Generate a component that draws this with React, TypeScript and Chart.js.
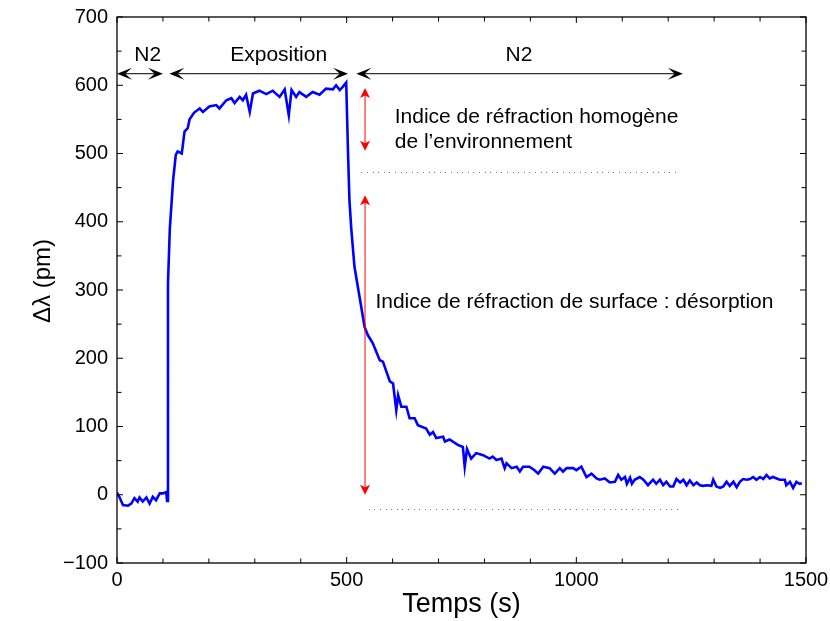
import React, { useEffect, useRef } from "react";
import { Chart, registerables } from "chart.js";

Chart.register(...registerables);

// ---- data (time in s, shift in pm) ----
const TIME_S = [
  0, 5, 13, 24, 31, 38, 45, 49, 56, 64, 71, 78, 85, 93, 100, 107, 109,
  111, 115, 122, 128, 132, 141, 147, 154, 158, 168, 180, 187, 201, 216, 223, 238, 249, 256, 267, 274, 281, 289, 296,
  310, 325, 339, 354, 365, 374, 380, 390, 397, 412, 426, 441, 455, 470, 477, 485, 492, 499,
  503, 506, 510, 517, 528, 539, 546, 557, 572, 579, 594, 601, 608, 612, 619, 630, 637, 648, 655, 673, 681, 688, 695,
  710, 714, 724, 742, 753, 757, 762, 771, 782, 797, 811, 818, 826, 837, 844, 848, 859, 870, 877, 884, 898, 909, 917,
  928, 942, 953, 964, 971, 979, 993, 1000, 1011, 1022, 1033, 1044, 1051, 1062, 1073, 1084, 1091, 1098, 1106, 1110,
  1117, 1121, 1127, 1138, 1146, 1156, 1167, 1174, 1182, 1189, 1196, 1204, 1211, 1218, 1226, 1233, 1240, 1247, 1255,
  1262, 1269, 1276, 1284, 1294, 1298, 1305, 1313, 1320, 1327, 1334, 1342, 1349, 1356, 1363, 1371, 1378, 1385, 1392,
  1400, 1407, 1414, 1421, 1428, 1443, 1454, 1457, 1465, 1472, 1479, 1486, 1491,
];
const SHIFT_PM = [
  3, -3, -15, -16, -13, -5, -10, -4, -10, -4, -13, -3, -8, 2, 2, 4, -9,
  310, 390, 460, 498, 503, 500, 532, 537, 550, 560, 566, 561, 569, 571, 566, 578, 581, 574, 583, 578, 586, 561, 588,
  592, 587, 592, 583, 594, 556, 593, 583, 590, 583, 590, 586, 595, 594, 600, 593, 598, 604,
  500, 432, 390, 334, 290, 246, 234, 222, 197, 195, 166, 163, 124, 146, 129, 129, 112, 112, 102, 97, 88, 92, 83,
  85, 78, 81, 73, 70, 41, 67, 53, 61, 58, 53, 56, 51, 53, 39, 46, 39, 41, 34, 41, 41, 36, 31,
  41, 39, 31, 39, 34, 39, 39, 36, 41, 26, 31, 24, 22, 24, 18, 19, 29, 22, 26, 16,
  25, 16, 22, 26, 22, 14, 22, 16, 22, 14, 19, 12, 12, 23, 18, 22, 14, 21, 14,
  18, 14, 13, 14, 13, 22, 12, 10, 12, 19, 13, 19, 11, 19, 23, 22, 23, 26, 22,
  26, 23, 29, 24, 26, 22, 22, 14, 19, 10, 19, 16, 17,
];

// ---- annotations (data coordinates) ----
const PHASE_LABELS = ["N2", "Exposition", "N2"];
const PHASE_START = [0, 114, 521];
const PHASE_END = [100, 503, 1232];
const PHASE_LABEL_X = [67, 352, 875];
const PHASE_ARROW_Y = 617;
const PHASE_LABEL_Y = 644;

const RED_ARROW_X = 540;
const RED_ARROW_TOP = [596, 439];
const RED_ARROW_BOTTOM = [504, 0];

const DOT_LINE_Y = [473, -21];
const DOT_LINE_START = [532, 548];
const DOT_LINE_END = [1215, 1221];

const NOTE_TEXTS = [
  "Indice de réfraction homogène",
  "de l\u2019environnement",
  "Indice de réfraction de surface : désorption",
];
const NOTE_X = [604.6, 604.6, 562.5];
const NOTE_Y = [544.2, 507.6, 273.2];

const X_TICK_LABELS = [0, 500, 1000, 1500];
const Y_TICK_LABELS = [-100, 0, 100, 200, 300, 400, 500, 600, 700];

const FONT = "'Liberation Sans', Arial, Helvetica, sans-serif";

function arrowHead(ctx: CanvasRenderingContext2D, tx: number, ty: number, dx: number, dy: number, len: number, half: number, notch: number) {
  const px = -dy, py = dx;
  ctx.beginPath();
  ctx.moveTo(tx, ty);
  ctx.lineTo(tx + dx * len + px * half, ty + dy * len + py * half);
  ctx.lineTo(tx + dx * len * notch, ty + dy * len * notch);
  ctx.lineTo(tx + dx * len - px * half, ty + dy * len - py * half);
  ctx.closePath();
  ctx.fill();
}

const decorPlugin = {
  id: "decor",
  afterDraw(chart: any) {
    const { ctx, chartArea, scales } = chart;
    const xs = scales.x, ys = scales.y;
    const { left, right, top, bottom } = chartArea;
    ctx.save();

    // box
    ctx.strokeStyle = "#000";
    ctx.lineWidth = 1.3;
    ctx.strokeRect(left, top, right - left, bottom - top);

    // inward ticks
    ctx.lineWidth = 1;
    ctx.beginPath();
    for (let v = 0; v <= 1500; v += 100) {
      const x = xs.getPixelForValue(v);
      const l = X_TICK_LABELS.includes(v) ? 6 : 4.5;
      ctx.moveTo(x, bottom); ctx.lineTo(x, bottom - l);
      ctx.moveTo(x, top); ctx.lineTo(x, top + l);
    }
    for (let v = -100; v <= 700; v += 50) {
      const y = ys.getPixelForValue(v);
      const l = Y_TICK_LABELS.includes(v) ? 6 : 4.5;
      ctx.moveTo(left, y); ctx.lineTo(left + l, y);
      ctx.moveTo(right, y); ctx.lineTo(right - l, y);
    }
    ctx.stroke();

    // y title
    ctx.fillStyle = "#000";
    ctx.font = `24px ${FONT}`;
    ctx.textAlign = "center";
    ctx.textBaseline = "middle";
    ctx.save();
    ctx.translate(43, 281);
    ctx.rotate(-Math.PI / 2);
    ctx.fillText("\u0394\u03bb (pm)", 0, 0);
    ctx.restore();

    // phase arrows
    const ay = ys.getPixelForValue(PHASE_ARROW_Y);
    for (let i = 0; i < PHASE_LABELS.length; i++) {
      const x1 = xs.getPixelForValue(PHASE_START[i]);
      const x2 = xs.getPixelForValue(PHASE_END[i]);
      ctx.strokeStyle = "#333";
      ctx.lineWidth = 1.2;
      ctx.beginPath();
      ctx.moveTo(x1 + 4, ay); ctx.lineTo(x2 - 4, ay);
      ctx.stroke();
      ctx.fillStyle = "#000";
      arrowHead(ctx, x1, ay, 1, 0, 15, 6, 0.55);
      arrowHead(ctx, x2, ay, -1, 0, 15, 6, 0.55);
      ctx.font = `21px ${FONT}`;
      ctx.textAlign = "center";
      ctx.textBaseline = "middle";
      ctx.fillText(PHASE_LABELS[i], xs.getPixelForValue(PHASE_LABEL_X[i]), ys.getPixelForValue(PHASE_LABEL_Y));
    }

    // red arrows
    const rx = xs.getPixelForValue(RED_ARROW_X);
    for (let i = 0; i < RED_ARROW_TOP.length; i++) {
      const y1 = ys.getPixelForValue(RED_ARROW_TOP[i]);
      const y2 = ys.getPixelForValue(RED_ARROW_BOTTOM[i]);
      ctx.strokeStyle = "#ff0000";
      ctx.lineWidth = 1;
      ctx.beginPath();
      ctx.moveTo(rx, y1 + 4); ctx.lineTo(rx, y2 - 4);
      ctx.stroke();
      ctx.fillStyle = "#ff0000";
      arrowHead(ctx, rx, y1, 0, 1, 10, 5, 0.75);
      arrowHead(ctx, rx, y2, 0, -1, 10, 5, 0.75);
    }

    // dotted lines
    ctx.fillStyle = "#777";
    for (let i = 0; i < DOT_LINE_Y.length; i++) {
      const y = Math.round(ys.getPixelForValue(DOT_LINE_Y[i]));
      const x1 = xs.getPixelForValue(DOT_LINE_START[i]);
      const x2 = xs.getPixelForValue(DOT_LINE_END[i]);
      for (let x = x1; x <= x2; x += 5.6) {
        ctx.fillRect(Math.round(x), y, 1, 1);
      }
    }

    // notes
    ctx.fillStyle = "#000";
    ctx.font = `21px ${FONT}`;
    ctx.textAlign = "left";
    ctx.textBaseline = "alphabetic";
    for (let i = 0; i < NOTE_TEXTS.length; i++) {
      ctx.fillText(NOTE_TEXTS[i], xs.getPixelForValue(NOTE_X[i]), ys.getPixelForValue(NOTE_Y[i]));
    }
    ctx.restore();
  },
};

export default function App() {
  const ref = useRef<HTMLCanvasElement | null>(null);
  useEffect(() => {
    if (!ref.current) return;
    const chart = new Chart(ref.current, {
      type: "line",
      data: {
        datasets: [
          {
            data: TIME_S.map((t, i) => ({ x: t, y: SHIFT_PM[i] })),
            borderColor: "#0000ff",
            borderWidth: 2.6,
            pointRadius: 0,
            tension: 0,
            fill: false,
          },
        ],
      },
      options: {
        animation: false,
        responsive: false,
        devicePixelRatio: 1,
        layout: { padding: { left: 0, right: 24, top: 17, bottom: 0 } },
        plugins: { legend: { display: false }, tooltip: { enabled: false } },
        scales: {
          x: {
            type: "linear",
            min: 0,
            max: 1500,
            grid: { display: false, drawTicks: false },
            border: { display: false },
            ticks: {
              stepSize: 100,
              autoSkip: false,
              maxRotation: 0,
              padding: 5,
              color: "#000",
              font: { family: FONT, size: 20 },
              callback: (v: any) => (X_TICK_LABELS.includes(Number(v)) ? String(v) : ""),
            },
            title: {
              display: true,
              text: "Temps (s)",
              color: "#000",
              font: { family: FONT, size: 27, lineHeight: 1.2 },
              padding: { top: 0, bottom: 0 },
            },
            afterFit: (s: any) => { s.height = 58; s.paddingLeft = 0; s.paddingRight = 0; },
          },
          y: {
            type: "linear",
            min: -100,
            max: 700,
            grid: { display: false, drawTicks: false },
            border: { display: false },
            ticks: {
              stepSize: 50,
              autoSkip: false,
              padding: 9,
              color: "#000",
              font: { family: FONT, size: 20 },
              callback: (v: any) => {
                const n = Number(v);
                if (!Y_TICK_LABELS.includes(n)) return "";
                return n < 0 ? "\u2212" + Math.abs(n) : String(n);
              },
            },
            afterFit: (s: any) => { s.width = 117; s.paddingTop = 0; s.paddingBottom = 0; },
          },
        },
      },
      plugins: [decorPlugin],
    });
    return () => chart.destroy();
  }, []);
  return (
    <div style={{ position: "fixed", left: 0, top: 0, width: 830, height: 621, background: "#fff" }}>
      <canvas ref={ref} width={830} height={621} style={{ display: "block" }} />
    </div>
  );
}
